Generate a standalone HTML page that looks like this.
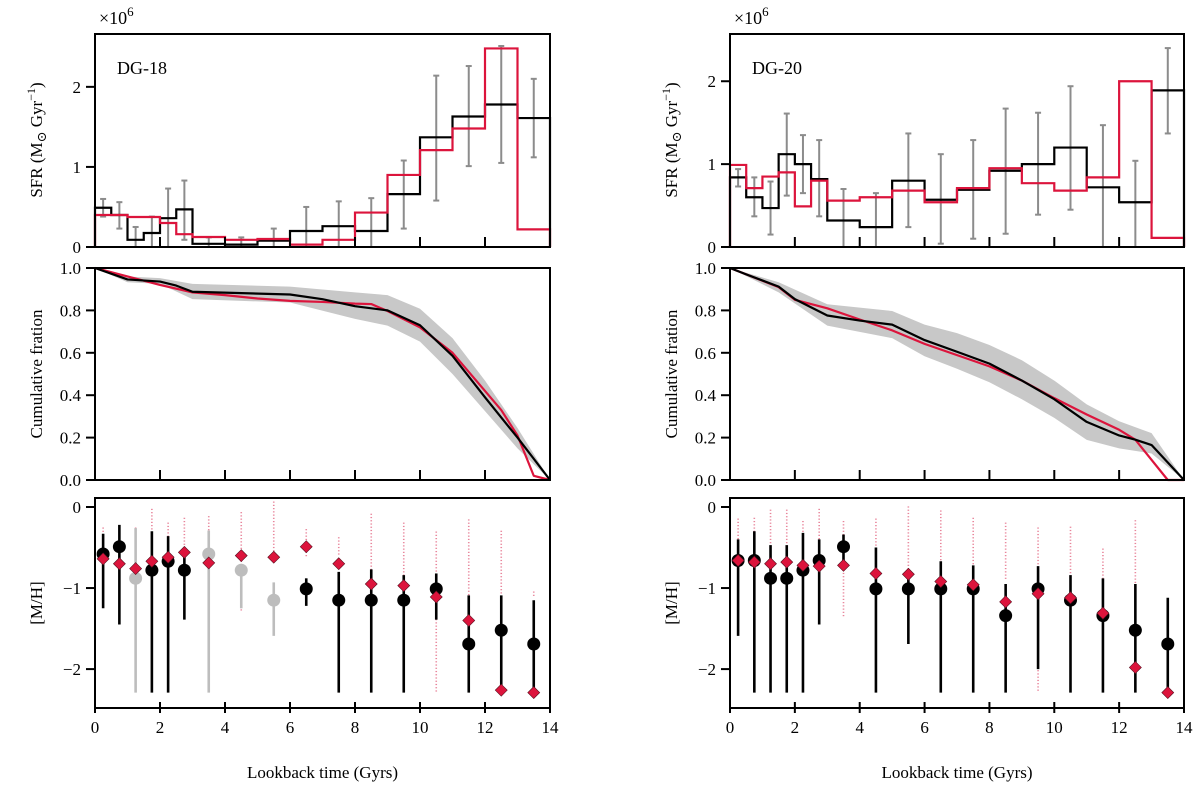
<!DOCTYPE html>
<html><head><meta charset="utf-8"><style>
body{margin:0;background:#fff}
svg text{font-family:"Liberation Serif","DejaVu Serif",serif;fill:#000}
</style></head><body>
<svg id="fig" width="1200" height="785" xmlns="http://www.w3.org/2000/svg"></svg>
<script>
// ---- data ----
const sfrEdges=[0,0.5,1,1.5,2,2.5,3,4,5,6,7,8,9,10,11,12,13,14];
const errX=[0.25,0.75,1.25,1.75,2.25,2.75,3.5,4.5,5.5,6.5,7.5,8.5,9.5,10.5,11.5,12.5,13.5];
const sfrBlackL=[0.49,0.40,0.09,0.175,0.36,0.47,0.04,0.03,0.08,0.2,0.26,0.2,0.66,1.37,1.63,1.78,1.61];
const sfrRedL=[0.4,0.4,0.375,0.375,0.3,0.16,0.125,0.09,0.1,0.03,0.09,0.43,0.9,1.21,1.48,2.48,0.22];
const errHiL=[0.6,0.56,0.25,0.38,0.73,0.83,0.12,0.12,0.23,0.5,0.57,0.61,1.08,2.14,2.26,2.51,2.1];
const errLoL=[0.38,0.23,0,0,0,0.09,0,0,0,0,0,0,0.23,0.58,1.01,1.05,1.12];
const sfrBlackR=[0.84,0.6,0.47,1.12,1.0,0.82,0.32,0.24,0.8,0.57,0.69,0.92,1.0,1.2,0.72,0.54,1.89];
const sfrRedR=[0.99,0.71,0.85,0.9,0.49,0.8,0.56,0.6,0.68,0.54,0.71,0.95,0.77,0.68,0.84,2.0,0.11];
const errHiR=[0.94,0.84,0.79,1.61,1.35,1.29,0.7,0.65,1.37,1.12,1.29,1.67,1.62,1.94,1.47,1.04,2.4];
const errLoR=[0.73,0.37,0.15,0.62,0.65,0.37,0,0,0.24,0.04,0.1,0.16,0.39,0.45,0,0,1.37];

const cumXBL=[0,1,2,2.5,3,6,7,8,9,10,11,12,13,14];
const cumBL=[1,0.946,0.936,0.917,0.888,0.875,0.853,0.82,0.8,0.73,0.586,0.39,0.2,0];
const cumXRL=[0,1,2,3,4,5,6,7,8,8.5,9,10,11,12,12.5,13,13.5,14];
const cumRL=[1,0.96,0.92,0.885,0.872,0.856,0.845,0.84,0.832,0.83,0.797,0.72,0.6,0.42,0.33,0.21,0.02,0];
const bandX=[0,1,2,3,6,8,9,10,11,12,13,14];
const bandHiL=[1,0.96,0.952,0.925,0.912,0.885,0.872,0.808,0.669,0.469,0.245,0];
const bandLoL=[1,0.933,0.925,0.853,0.837,0.76,0.728,0.653,0.5,0.325,0.149,0];
const cumXBR=[0,0.5,1.5,2,3,4,5,6,7,8,9,10,11,12,12.5,13,14];
const cumBR=[1,0.97,0.912,0.853,0.776,0.752,0.733,0.66,0.605,0.549,0.469,0.381,0.274,0.21,0.19,0.165,0];
const cumXRR=[0,1.5,2,3,4,5,6,7,8,9,10,11,12,12.5,13.5,14];
const cumRR=[1,0.91,0.85,0.81,0.757,0.706,0.642,0.589,0.536,0.469,0.386,0.309,0.237,0.19,0,0];
const bandXR=[0,1.5,3,5,6,7,8,9,10,11,12,13,14];
const bandHiR=[1,0.933,0.829,0.797,0.733,0.693,0.637,0.565,0.469,0.357,0.277,0.221,0];
const bandLoR=[1,0.885,0.728,0.669,0.584,0.525,0.461,0.381,0.293,0.189,0.149,0.125,0];

const mhL=[-0.58,-0.49,-0.88,-0.78,-0.67,-0.78,-0.58,-0.78,-1.15,-1.01,-1.15,-1.15,-1.15,-1.01,-1.69,-1.52,-1.69];
const mhHiL=[-0.33,-0.22,-0.26,-0.3,-0.36,-0.56,-0.29,-0.78,-0.93,-0.88,-0.8,-0.77,-0.84,-0.82,-1.09,-1.09,-1.15];
const mhLoL=[-1.25,-1.45,-2.29,-2.29,-2.29,-1.39,-2.29,-1.25,-1.59,-1.22,-2.29,-2.29,-2.29,-1.39,-2.29,-2.29,-2.29];
const mhGreyL=[0,0,1,0,0,0,1,1,1,0,0,0,0,0,0,0,0];
const mhModelL=[-0.64,-0.7,-0.76,-0.67,-0.62,-0.56,-0.69,-0.6,-0.62,-0.49,-0.7,-0.95,-0.97,-1.11,-1.4,-2.26,-2.29];
const dotTopL=[-0.26,-0.6,-0.26,-0.03,-0.2,-0.14,-0.12,-0.07,0.06,-0.28,-0.38,-0.09,-0.2,-0.31,-0.16,-0.3,-1.05];
const dotBotL=[-0.6,-0.7,-0.7,-0.6,-0.6,-0.5,-0.6,-1.28,-0.6,-0.6,-0.6,-1.0,-0.9,-2.29,-1.3,-1.3,-1.1];
const mhR=[-0.66,-0.66,-0.88,-0.88,-0.78,-0.66,-0.49,-1.01,-1.01,-1.01,-1.01,-1.34,-1.01,-1.15,-1.34,-1.52,-1.69];
const mhHiR=[-0.4,-0.3,-0.47,-0.47,-0.32,-0.4,-0.34,-0.5,-0.82,-0.67,-0.72,-0.95,-0.73,-0.84,-0.88,-0.95,-1.12];
const mhLoR=[-1.59,-2.29,-2.29,-2.29,-2.29,-1.45,-0.72,-2.29,-1.69,-2.29,-2.29,-2.29,-2.0,-2.29,-2.29,-2.29,-2.29];
const mhModelR=[-0.66,-0.68,-0.7,-0.68,-0.72,-0.73,-0.72,-0.82,-0.83,-0.92,-0.96,-1.17,-1.07,-1.12,-1.31,-1.98,-2.29];
const dotTopR=[-0.15,-0.14,-0.04,-0.04,-0.18,-0.03,-0.18,-0.15,0.0,-0.05,-0.14,-0.2,-0.26,-0.25,-0.52,-0.17,-2.3];
const dotBotR=[-0.5,-0.5,-0.5,-0.5,-0.6,-0.5,-1.35,-0.8,-0.8,-0.8,-0.8,-0.9,-2.29,-0.9,-1.0,-1.0,-2.3];

const xTicks=[0,2,4,6,8,10,12,14];
const NS="http://www.w3.org/2000/svg";
const svg=document.getElementById('fig');
function el(t,a,p){const e=document.createElementNS(NS,t);for(const k in a)e.setAttribute(k,a[k]);(p||svg).appendChild(e);return e;}

function panel(px,pw,py,ph,ymin,ymax){
  return {sx:v=>px+(v/14)*pw, sy:v=>py+ph-(v-ymin)/(ymax-ymin)*ph, px,pw,py,ph};
}
function frame(P,name,yticks,ylabels,bottomLabels,cross){
  const r=el('rect',{x:P.px,y:P.py,width:P.pw,height:P.ph,fill:'none',stroke:'#000','stroke-width':2});
  
  
  yticks.forEach((t,i)=>{
    const y=P.sy(t);
    el('line',{x1:P.px-9,x2:P.px,y1:y,y2:y,stroke:'#000','stroke-width':2});
    const tx=el('text',{x:P.px-14,y:y+6,'text-anchor':'end','font-size':17});
    tx.textContent=ylabels[i];
    
    
  });
  xTicks.forEach(t=>{
    const x=P.sx(t),yb=P.py+P.ph;
    el('line',{x1:x,x2:x,y1:yb-(cross?6:10),y2:yb+(cross?5:0),stroke:'#000','stroke-width':2});
    if(bottomLabels){
      const tx=el('text',{x:x,y:yb+25,'text-anchor':'middle','font-size':17});
      tx.textContent=t;
      
      
    }
  });
}
function steps(P,vals,color,name){
  let d='';
  vals.forEach((v,i)=>{const x0=P.sx(sfrEdges[i]),x1=P.sx(sfrEdges[i+1]),y=P.sy(v);
    d+=(i===0?'M'+x0+','+P.sy(0)+'L'+x0+','+y:'L'+x0+','+y)+'L'+x1+','+y;});
  d+='L'+P.sx(14)+','+P.sy(0);
  const p=el('path',{d,fill:'none',stroke:color,'stroke-width':2.2});
  
  
}
function errbars(P,hi,lo,name){
  errX.forEach((x,i)=>{
    const g=el('g',{stroke:'#8c8c8c','stroke-width':2});
    
    
    const X=P.sx(x),a=P.sy(hi[i]),b=P.sy(lo[i]);
    el('line',{x1:X,x2:X,y1:a,y2:b},g);
    el('line',{x1:X-3,x2:X+3,y1:a,y2:a},g);
    el('line',{x1:X-3,x2:X+3,y1:b,y2:b},g);
  });
}
function line(P,xs,ys,color,name){
  const p=el('polyline',{points:xs.map((x,i)=>P.sx(x)+','+P.sy(ys[i])).join(' '),fill:'none',stroke:color,'stroke-width':2.2,'stroke-linejoin':'round'});
  
  
}
function band(P,xs,hi,lo,name){
  const pts=xs.map((x,i)=>P.sx(x)+','+P.sy(hi[i])).concat(xs.map((x,i)=>P.sx(x)+','+P.sy(lo[i])).reverse());
  const p=el('polygon',{points:pts.join(' '),fill:'#c8c8c8',stroke:'none'});
  
  
}
function mh(P,vals,hi,lo,grey,model,dtop,dbot,name){
  errX.forEach((x,i)=>{
    const X=P.sx(x);
    for(let v=dtop[i];v>=dbot[i];v-=0.04){
      const d=el('rect',{x:X-0.8,y:P.sy(v)-0.6,width:1.6,height:1.2,fill:'#e8849a'});
      
      
    }
  });
  errX.forEach((x,i)=>{
    const X=P.sx(x),c=grey[i]?'#bdbdbd':'#000';
    const l=el('line',{x1:X,x2:X,y1:P.sy(hi[i]),y2:P.sy(lo[i]),stroke:c,'stroke-width':2.6});
    
    
    const ci=el('circle',{cx:X,cy:P.sy(vals[i]),r:6.5,fill:c});
    
    
  });
  errX.forEach((x,i)=>{
    const X=P.sx(x),Y=P.sy(model[i]),s=6;
    const d=el('polygon',{points:`${X},${Y-s} ${X+s},${Y} ${X},${Y+s} ${X-s},${Y}`,fill:'#dc143c',stroke:'#5a1020','stroke-width':0.6});
    
    
  });
}
function txt(x,y,s,size,name,rot){
  const t=el('text',{x,y,'font-size':size,'text-anchor':rot?'middle':'start'});
  if(rot)t.setAttribute('transform',`rotate(-90 ${x} ${y})`);
  t.innerHTML=s;
  
  
  return t;
}

[[95,455,'left',sfrBlackL,sfrRedL,errHiL,errLoL,2.66,'DG-18',cumXBL,cumBL,cumXRL,cumRL,bandX,bandHiL,bandLoL,mhL,mhHiL,mhLoL,mhGreyL,mhModelL,dotTopL,dotBotL,42],
 [730,454,'right',sfrBlackR,sfrRedR,errHiR,errLoR,2.57,'DG-20',cumXBR,cumBR,cumXRR,cumRR,bandXR,bandHiR,bandLoR,mhR,mhHiR,mhLoR,mhGreyL.map(()=>0),mhModelR,dotTopR,dotBotR,677]
].forEach(c=>{
  const [px,pw,side,sb,sr,eh,el_,ymaxT,lbl,cxb,cb,cxr,cr,bx,bh,bl,m,mhi,mlo,mg,mm,dt,db,ylx]=c;
  // top
  const T=panel(px,pw,34,213,0,ymaxT);
  errbars(T,eh,el_,side+'-sfr-error-bar');
  steps(T,sb,'#000',side+'-sfr-observed');
  steps(T,sr,'#dc143c',side+'-sfr-model');
  frame(T,side+'-sfr',[0,1,2],['0','1','2'],false,false);
  txt(px+22,74,lbl,18,side+'-galaxy-label');
  txt(px+4,24,'×10<tspan dy="-8" font-size="13">6</tspan>',18,side+'-sfr-scale-label');
  txt(ylx,140,'SFR (M<tspan font-size="13" dy="4">⊙</tspan><tspan dy="-4"> Gyr</tspan><tspan dy="-7" font-size="12">−1</tspan><tspan dy="7">)</tspan>',17,side+'-sfr-y-axis-title',true);
  // middle
  const M=panel(px,pw,268,212,0,1);
  band(M,bx,bh,bl,side+'-cumulative-band');
  line(M,cxr,cr,'#dc143c',side+'-cumulative-model');
  line(M,cxb,cb,'#000',side+'-cumulative-observed');
  frame(M,side+'-cumulative',[0,0.2,0.4,0.6,0.8,1.0],['0.0','0.2','0.4','0.6','0.8','1.0'],false,false);
  txt(ylx,374,'Cumulative fration',17,side+'-cumulative-y-axis-title',true);
  // bottom
  const B=panel(px,pw,498,210,-2.48,0.111);
  mh(B,m,mhi,mlo,mg,mm,dt,db,side+'-metallicity');
  frame(B,side+'-metallicity',[0,-1,-2],['0','−1','−2'],true,true);
  txt(ylx,603,'[M/H]',17,side+'-metallicity-y-axis-title',true);
  txt(px+pw/2,778,'Lookback time (Gyrs)',17,side+'-x-axis-title',true).setAttribute('transform','');
});
</script>
</body></html>
